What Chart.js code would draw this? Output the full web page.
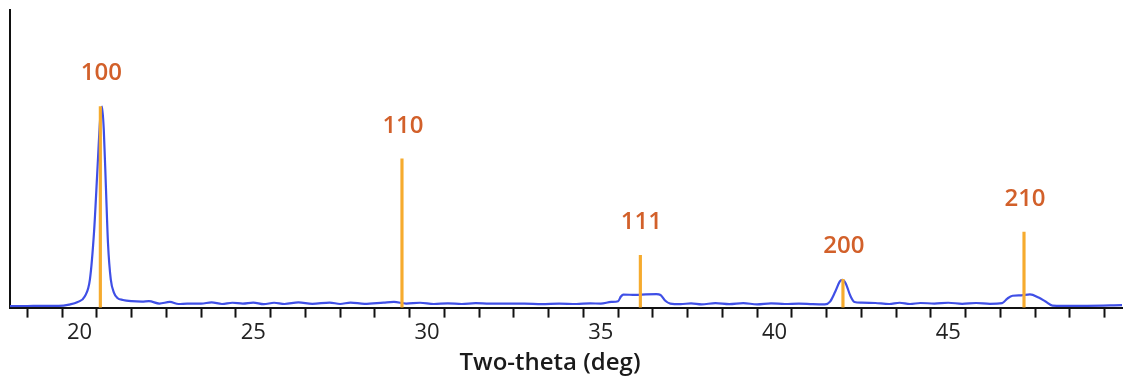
<!DOCTYPE html>
<html>
<head>
<meta charset="utf-8">
<script src="https://cdn.jsdelivr.net/npm/chart.js@4"></script>
<style>
  html, body { margin: 0; padding: 0; background: #fff; }
  #wrap { width: 1124px; height: 380px; }
</style>
</head>
<body>
<div id="wrap"><canvas id="xrd"></canvas></div>
<script>
// measured pattern (two-theta in deg, intensity)
const tetaMedido = [18.0, 18.5, 19.0, 19.4, 19.7, 19.95, 20.15, 20.3, 20.42, 20.52, 20.6, 20.65, 20.7, 20.76, 20.82, 20.9, 20.99, 21.09, 21.25, 21.5,
    21.8, 22.0, 22.3, 22.6, 22.85, 23.1, 23.5, 23.8, 24.1, 24.4, 24.7, 25.0, 25.3, 25.6, 25.9, 26.3, 26.7, 27.2, 27.5, 27.8,
    28.2, 28.75, 29.05, 29.4, 29.8, 30.2, 30.6, 31.0, 31.4, 31.8, 32.3, 32.8, 33.3, 33.8, 34.3, 34.7, 35.0, 35.3, 35.5, 35.58,
    35.65, 36.0, 36.3, 36.6, 36.72, 36.85, 37.0, 37.3, 37.6, 37.9, 38.3, 38.7, 39.1, 39.5, 39.9, 40.3, 40.7, 41.1, 41.45, 41.6,
    41.75, 41.88, 41.95, 42.05, 42.18, 42.3, 42.5, 42.9, 43.3, 43.6, 43.9, 44.2, 44.6, 45.0, 45.4, 45.8, 46.2, 46.55, 46.7, 46.85,
    47.1, 47.35, 47.6, 47.8, 48.0, 48.3, 49.0, 50.0];
const intensidadeMedida = [0.7, 0.8, 0.9, 0.9, 1.5, 2.8, 5.5, 14, 38, 70, 95, 100, 88, 60, 32, 14, 7.5, 4.8, 3.8, 3.2,
    3.0, 3.2, 2.0, 2.8, 1.8, 2.0, 2.0, 2.6, 1.8, 2.4, 2.0, 2.5, 1.7, 2.4, 1.8, 2.6, 1.9, 2.5, 1.8, 2.5,
    1.9, 2.5, 2.8, 2.0, 2.4, 1.8, 2.1, 1.8, 2.2, 2.0, 2.0, 2.0, 1.7, 2.0, 1.8, 2.1, 2.0, 2.8, 3.2, 5.5,
    6.5, 6.3, 6.6, 6.7, 6.3, 3.5, 2.0, 1.7, 2.1, 1.6, 2.2, 1.7, 2.2, 1.6, 2.1, 1.8, 2.0, 1.7, 1.6, 3.0,
    8.0, 13.0, 13.8, 12.0, 6.0, 2.8, 2.5, 2.3, 1.8, 2.4, 1.8, 2.3, 2.0, 2.4, 1.9, 2.3, 1.9, 2.2, 4.5, 5.9,
    6.1, 6.6, 5.0, 3.0, 1.0, 0.9, 0.9, 1.2];

// reference reflections
const picosHkl = ['100', '110', '111', '200', '210'];
const picosTeta = [20.6, 29.28, 36.14, 41.97, 47.18];
const picosAltura = [100, 74, 26, 14, 37.5];

const pontosMedidos = tetaMedido.map((t, i) => ({ x: t, y: intensidadeMedida[i] }));
const pontosPicos = picosTeta.map((t, i) => ({ x: t, y: picosAltura[i] }));

// escreve os indices hkl em cima das barras
const rotulosHkl = {
    id: 'rotulosHkl',
    afterDatasetsDraw(chart) {
        const ctx = chart.ctx;
        const x = chart.scales.x;
        const y = chart.scales.y;
        ctx.save();
        ctx.font = '600 24px "Open Sans"';
        ctx.fillStyle = '#d2602a';
        ctx.textAlign = 'center';
        ctx.textBaseline = 'middle';
        for (let i = 0; i < picosHkl.length; i++) {
            ctx.fillText(picosHkl[i], x.getPixelForValue(picosTeta[i]) + 1, y.getPixelForValue(picosAltura[i]) - 33);
        }
        ctx.restore();
    }
};

// titulo do eixo x (um pouco deslocado para a esquerda como no original)
const tituloEixo = {
    id: 'tituloEixo',
    afterDraw(chart) {
        const ctx = chart.ctx;
        const area = chart.chartArea;
        ctx.save();
        ctx.font = '600 24px "Open Sans"';
        ctx.fillStyle = '#1a1a1a';
        ctx.textAlign = 'center';
        ctx.textBaseline = 'middle';
        ctx.fillText('Two-theta (deg)', (area.left + area.right) / 2 - 16, 363);
        ctx.restore();
    }
};

new Chart(document.getElementById('xrd'), {
    data: {
        datasets: [
            {
                type: 'bar',
                data: pontosPicos,
                backgroundColor: '#f6ab2e',
                barThickness: 2.5,
                order: 0
            },
            {
                type: 'line',
                data: pontosMedidos,
                borderColor: '#3f4fe6',
                borderWidth: 2.2,
                pointRadius: 0,
                cubicInterpolationMode: 'monotone',
                fill: false,
                order: 1
            }
        ]
    },
    options: {
        responsive: true,
        maintainAspectRatio: false,
        animation: false,
        layout: { padding: { top: 10, left: 10, right: 1, bottom: 32 } },
        plugins: {
            legend: { display: false },
            tooltip: { enabled: false }
        },
        scales: {
            x: {
                type: 'linear',
                min: 18,
                max: 50,
                offset: false,
                border: { display: true, color: '#111', width: 2 },
                grid: { drawOnChartArea: false, drawTicks: true, tickLength: 10, tickColor: '#111', tickWidth: 2 },
                ticks: {
                    stepSize: 1,
                    autoSkip: false,
                    maxRotation: 0,
                    padding: 2,
                    color: '#222',
                    font: { family: 'Open Sans', size: 22 },
                    callback: (v) => (v % 5 === 0 && v < 50) ? String(v) : ''
                }
            },
            y: {
                min: 0,
                max: 148,
                border: { display: true, color: '#111', width: 2 },
                grid: { display: false, drawTicks: false },
                ticks: { display: false }
            }
        }
    },
    plugins: [rotulosHkl, tituloEixo]
});
</script>
</body>
</html>
